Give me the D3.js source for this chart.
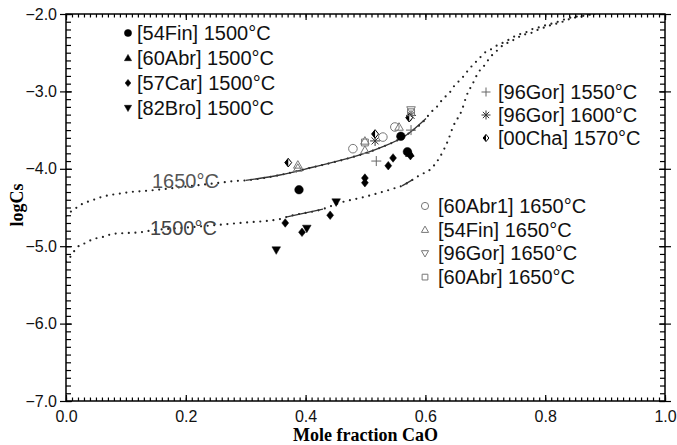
<!DOCTYPE html>
<html>
<head>
<meta charset="utf-8">
<script src="https://cdn.jsdelivr.net/npm/d3@7"></script>
<style>
  body { margin: 0; background: #fff; }
  .tick text { font-family: "Liberation Sans", Arial, sans-serif; font-size: 16px; fill: #111; }
  .axis path.domain { display: none; }
  .axis line { stroke: #000; stroke-width: 1.2; }
</style>
</head>
<body>
<svg id="chart"></svg>
<script>
// tick labels
const xMajor = [0, 0.2, 0.4, 0.6, 0.8, 1.0];
const yMajor = [-7, -6, -5, -4, -3, -2];

// model curves [x, logCs]
const curve1650 = [[0,-4.61],[0.007,-4.56],[0.018,-4.50],[0.028,-4.45],[0.043,-4.41],[0.057,-4.37],[0.073,-4.34],[0.090,-4.32],[0.107,-4.30],[0.124,-4.29],[0.14,-4.28],[0.2,-4.23],[0.257,-4.18],[0.279,-4.16],[0.30,-4.15],[0.357,-4.08],[0.412,-3.98],[0.469,-3.87],[0.524,-3.73],[0.569,-3.56],[0.601,-3.35],[0.608,-3.28],[0.619,-3.20],[0.629,-3.10],[0.641,-3.01],[0.649,-2.92],[0.661,-2.83],[0.669,-2.75],[0.679,-2.66],[0.688,-2.59],[0.699,-2.50],[0.711,-2.45],[0.721,-2.40],[0.733,-2.36],[0.746,-2.30],[0.758,-2.26],[0.770,-2.23],[0.780,-2.19],[0.791,-2.17],[0.803,-2.14],[0.813,-2.12],[0.825,-2.09],[0.836,-2.06],[0.846,-2.04],[0.858,-2.03],[0.88,-2.0]];
const curve1500 = [[0,-5.20],[0.007,-5.14],[0.018,-5.02],[0.032,-4.96],[0.045,-4.91],[0.062,-4.88],[0.079,-4.84],[0.102,-4.83],[0.124,-4.82],[0.14,-4.80],[0.2,-4.76],[0.29,-4.70],[0.357,-4.65],[0.369,-4.62],[0.429,-4.52],[0.457,-4.44],[0.50,-4.36],[0.549,-4.25],[0.561,-4.22],[0.579,-4.14],[0.591,-4.08],[0.608,-4.01],[0.619,-3.91],[0.629,-3.78],[0.638,-3.63],[0.646,-3.46],[0.661,-3.24],[0.669,-3.05],[0.679,-2.90],[0.688,-2.76],[0.699,-2.66],[0.708,-2.56],[0.720,-2.47],[0.730,-2.40],[0.741,-2.36],[0.753,-2.31],[0.763,-2.27],[0.775,-2.25],[0.786,-2.21],[0.800,-2.17],[0.811,-2.14],[0.821,-2.12],[0.836,-2.08],[0.846,-2.05],[0.858,-2.04],[0.870,-2.01],[0.89,-1.99]];
const solid1650 = [[0.30, 0.601]];
const solid1500 = [[0.369, 0.429], [0.561, 0.579]];

// measurements [x, logCs]
const fin1500 = [[0.389,-4.27],[0.559,-3.58],[0.570,-3.78]];
const abr1500 = [[0.574,-3.80]];
const car1500 = [[0.366,-4.70],[0.394,-4.82],[0.441,-4.60],[0.499,-4.12],[0.499,-4.18],[0.538,-3.96],[0.546,-3.86],[0.575,-3.83]];
const bro1500 = [[0.351,-5.05],[0.402,-4.77],[0.451,-4.43]];
const gor1550 = [[0.518,-3.90],[0.576,-3.50]];
const gor1600 = [[0.516,-3.64],[0.576,-3.31]];
const cha1570 = [[0.371,-3.92],[0.516,-3.55],[0.573,-3.34]];
const abr1_1650 = [[0.479,-3.74],[0.529,-3.59],[0.549,-3.46]];
const fin1650 = [[0.387,-3.95],[0.387,-3.99],[0.499,-3.76],[0.499,-3.64],[0.556,-3.46]];
const gor1650 = [[0.576,-3.24]];
const abr1650 = [[0.499,-3.66],[0.576,-3.27]];

const series = [
  {name: "[54Fin] 1500°C", data: fin1500, shape: "circle", color: "#000", fill: true},
  {name: "[60Abr] 1500°C", data: abr1500, shape: "triUp", color: "#000", fill: true},
  {name: "[57Car] 1500°C", data: car1500, shape: "diamond", color: "#000", fill: true},
  {name: "[82Bro] 1500°C", data: bro1500, shape: "triDown", color: "#000", fill: true},
  {name: "[96Gor] 1550°C", data: gor1550, shape: "plus", color: "#666", fill: false},
  {name: "[96Gor] 1600°C", data: gor1600, shape: "asterisk", color: "#333", fill: false},
  {name: "[00Cha] 1570°C", data: cha1570, shape: "half", color: "#000", fill: false},
  {name: "[60Abr1] 1650°C", data: abr1_1650, shape: "circle", color: "#777", fill: false},
  {name: "[54Fin] 1650°C", data: fin1650, shape: "triUp", color: "#777", fill: false},
  {name: "[96Gor] 1650°C", data: gor1650, shape: "triDown", color: "#777", fill: false},
  {name: "[60Abr] 1650°C", data: abr1650, shape: "square", color: "#777", fill: false}
];

const W = 677, H = 445;
const plot = {left: 66, right: 665, top: 14, bottom: 401};

const svg = d3.select("#chart").attr("width", W).attr("height", H);

const x = d3.scaleLinear().domain([0, 1]).range([plot.left, plot.right]);
const y = d3.scaleLinear().domain([-7, -2]).range([plot.bottom, plot.top]);

function markerPath(shape, r) {
  switch (shape) {
    case "circle": return `M${r},0A${r},${r} 0 1,1 ${-r},0A${r},${r} 0 1,1 ${r},0Z`;
    case "triUp": return `M0,${-r}L${r},${r*0.75}L${-r},${r*0.75}Z`;
    case "triDown": return `M0,${r}L${r},${-r*0.75}L${-r},${-r*0.75}Z`;
    case "diamond": case "half": return `M0,${-r}L${r*0.8},0L0,${r}L${-r*0.8},0Z`;
    case "square": { const s = r*0.8; return `M${-s},${-s}H${s}V${s}H${-s}Z`; }
    case "plus": return `M${-r},0H${r}M0,${-r}V${r}`;
    case "asterisk": { const d = r*0.7; return `M${-r},0H${r}M0,${-r}V${r}M${-d},${-d}L${d},${d}M${-d},${d}L${d},${-d}`; }
  }
}

function drawMarker(g, s, r) {
  g.append("path")
      .attr("d", markerPath(s.shape, r))
      .attr("fill", s.shape === "half" ? "#fff" : (s.fill ? s.color : "none"))
      .attr("stroke", s.color)
      .attr("stroke-width", s.fill ? 0.5 : 1);
  if (s.shape === "half") {
    g.append("path")
        .attr("d", `M0,${-r}L${-r*0.8},0L0,${r}Z`)
        .attr("fill", "#000");
  }
}

// clip
svg.append("clipPath").attr("id", "clip")
  .append("rect")
    .attr("x", plot.left).attr("y", plot.top)
    .attr("width", plot.right - plot.left).attr("height", plot.bottom - plot.top);

const line = d3.line()
    .x(d => x(d[0]))
    .y(d => y(d[1]))
    .curve(d3.curveMonotoneX);

const curves = svg.append("g").attr("clip-path", "url(#clip)");

[[curve1650, solid1650], [curve1500, solid1500]].forEach(([pts, solids]) => {
  curves.append("path")
      .attr("d", line(pts))
      .attr("fill", "none")
      .attr("stroke", "#222")
      .attr("stroke-width", 2.2)
      .attr("stroke-linecap", "round")
      .attr("stroke-dasharray", "0,6.6");
  solids.forEach(([a, b]) => {
    curves.append("path")
        .attr("d", line(pts.filter(d => d[0] >= a - 1e-9 && d[0] <= b + 1e-9)))
        .attr("fill", "none")
        .attr("stroke", "#333")
        .attr("stroke-width", 1.3);
  });
});

// curve labels
svg.append("text")
    .attr("x", 152).attr("y", 188)
    .attr("font-family", "Liberation Sans, Arial, sans-serif")
    .attr("font-size", 20).attr("fill", "#555")
    .text("1650°C");
svg.append("text")
    .attr("x", 150).attr("y", 235)
    .attr("font-family", "Liberation Sans, Arial, sans-serif")
    .attr("font-size", 20).attr("fill", "#444")
    .text("1500°C");

// data markers
series.forEach(s => {
  s.data.forEach(d => {
    const g = svg.append("g").attr("transform", `translate(${x(d[0])},${y(d[1])})`);
    drawMarker(g, s, s.shape === "plus" || s.shape === "asterisk" ? 5 : 4.3);
  });
});

// legends
const legends = [
  {items: series.slice(0, 4), mx: 128, tx: 137, y0: 33, dy: 25},
  {items: series.slice(4, 7), mx: 486, tx: 498, y0: 92, dy: 23},
  {items: series.slice(7), mx: 425, tx: 438, y0: 206, dy: 23.7}
];
legends.forEach(L => {
  L.items.forEach((s, i) => {
    const cy = L.y0 + i * L.dy;
    const g = svg.append("g").attr("transform", `translate(${L.mx},${cy})`);
    drawMarker(g, s, s.shape === "plus" || s.shape === "asterisk" ? 4.5 : 3.6);
    svg.append("text")
        .attr("x", L.tx).attr("y", cy + 7)
        .attr("font-family", "Liberation Sans, Arial, sans-serif")
        .attr("font-size", 20).attr("fill", "#111")
        .text(s.name);
  });
});

// axes
const xMinor = d3.range(0, 101).map(i => i / 100);
const yMinor = d3.range(0, 51).map(i => -7 + i / 10);
const fmt = d3.format(".1f");

svg.append("g").attr("class", "axis")
    .attr("transform", `translate(0,${plot.bottom})`)
    .call(d3.axisBottom(x).tickValues(xMinor).tickSize(-3.5).tickFormat(""));
svg.append("g").attr("class", "axis")
    .attr("transform", `translate(0,${plot.bottom})`)
    .call(d3.axisBottom(x).tickValues(xMajor).tickSize(-6).tickPadding(10).tickFormat(fmt));
svg.append("g").attr("class", "axis")
    .attr("transform", `translate(0,${plot.top})`)
    .call(d3.axisTop(x).tickValues(xMinor).tickSize(-3.5).tickFormat(""));
svg.append("g").attr("class", "axis")
    .attr("transform", `translate(0,${plot.top})`)
    .call(d3.axisTop(x).tickValues(xMajor).tickSize(-6).tickFormat(""));

svg.append("g").attr("class", "axis")
    .attr("transform", `translate(${plot.left},0)`)
    .call(d3.axisLeft(y).tickValues(yMinor).tickSize(-5).tickFormat(""));
svg.append("g").attr("class", "axis")
    .attr("transform", `translate(${plot.left},0)`)
    .call(d3.axisLeft(y).tickValues(yMajor).tickSize(-6).tickFormat(""));
svg.append("g").attr("class", "axis")
    .attr("transform", `translate(${plot.left},0)`)
    .call(d3.axisLeft(y).tickValues(yMajor).tickSize(6).tickPadding(3).tickFormat(fmt));
svg.append("g").attr("class", "axis")
    .attr("transform", `translate(${plot.right},0)`)
    .call(d3.axisRight(y).tickValues(yMinor).tickSize(-5).tickFormat(""));
svg.append("g").attr("class", "axis")
    .attr("transform", `translate(${plot.right},0)`)
    .call(d3.axisRight(y).tickValues(yMajor).tickSize(6).tickFormat(""));
svg.append("g").attr("class", "axis")
    .attr("transform", `translate(${plot.right},0)`)
    .call(d3.axisRight(y).tickValues(yMajor).tickSize(-6).tickFormat(""));

// frame
svg.append("rect")
    .attr("x", plot.left).attr("y", plot.top)
    .attr("width", plot.right - plot.left).attr("height", plot.bottom - plot.top)
    .attr("fill", "none").attr("stroke", "#000").attr("stroke-width", 1.5);

// axis titles
svg.append("text")
    .attr("x", (plot.left + plot.right) / 2).attr("y", 441)
    .attr("text-anchor", "middle")
    .attr("font-family", "Liberation Serif, Times New Roman, serif")
    .attr("font-weight", "bold").attr("font-size", 18)
    .text("Mole fraction CaO");
svg.append("text")
    .attr("transform", `translate(23,205) rotate(-90)`)
    .attr("text-anchor", "middle")
    .attr("font-family", "Liberation Serif, Times New Roman, serif")
    .attr("font-weight", "bold").attr("font-size", 18)
    .text("logCs");
</script>
</body>
</html>
